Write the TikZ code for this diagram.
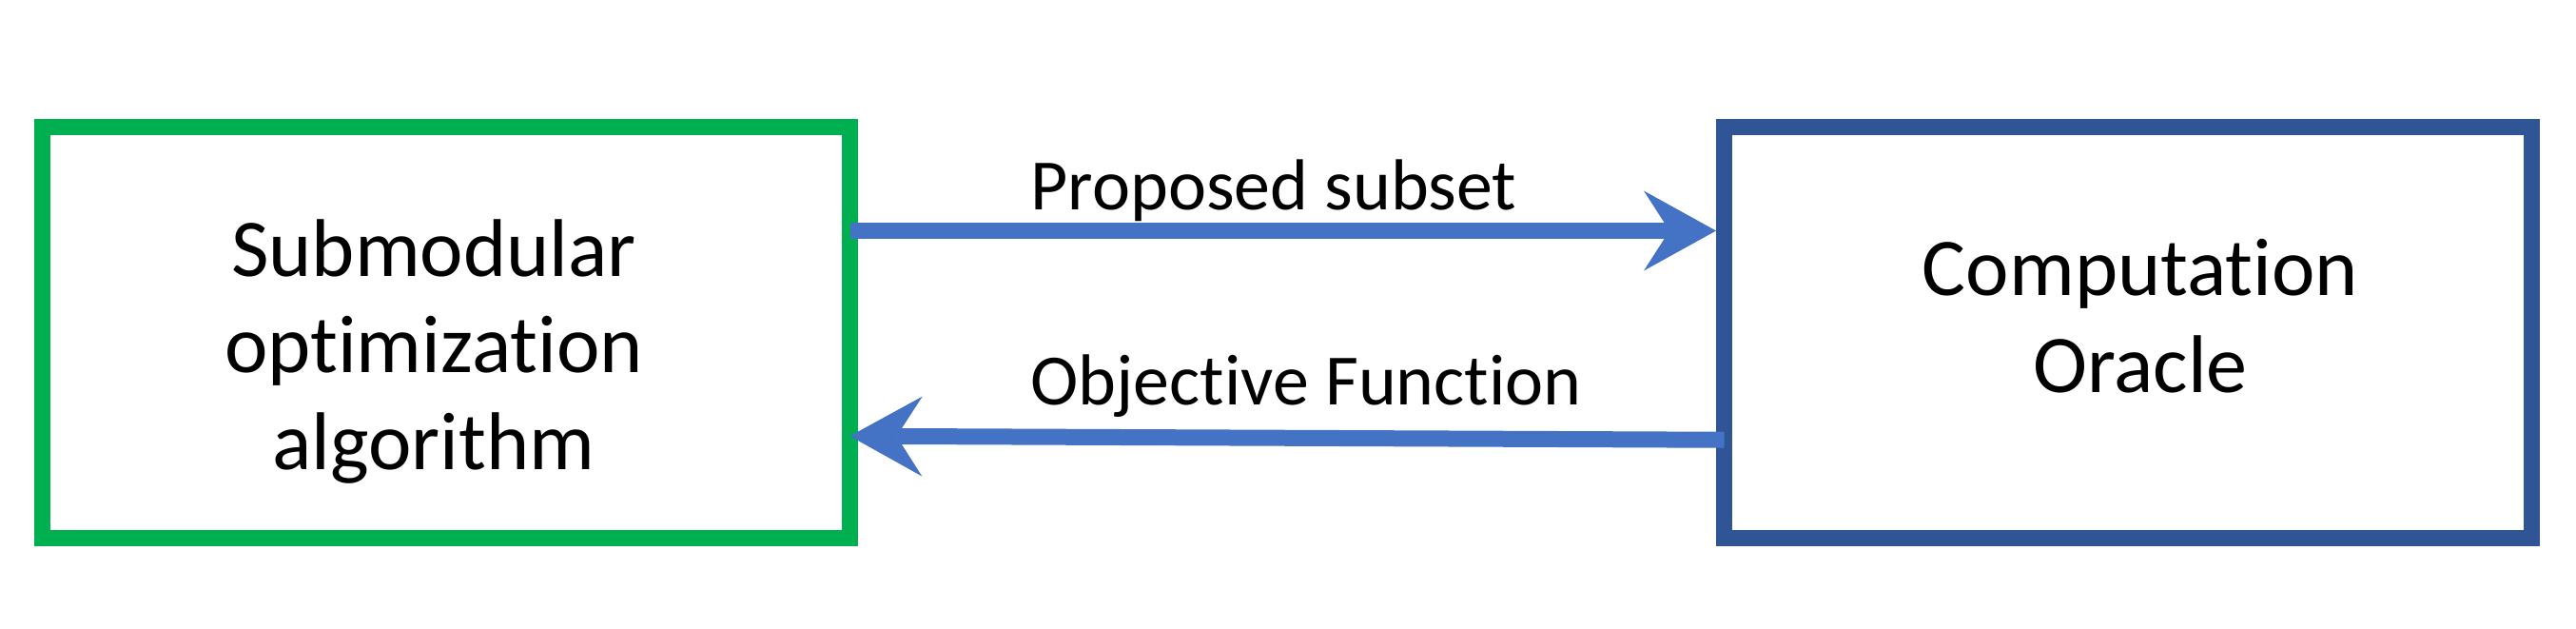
\documentclass[tikz,border=0pt]{standalone}
\usepackage{fontspec}
\setmainfont{Carlito}[Ligatures=NoCommon]
\usetikzlibrary{
    arrows.meta,
    positioning
}
\definecolor{algogreen}{HTML}{00B050}
\definecolor{oracleblue}{HTML}{2F5597}
\definecolor{flowblue}{HTML}{4472C4}
\tikzset{
    % --- Main block (algorithm / oracle) ---
    block/.style = {
        rectangle, draw, line width=0.17cm,
        minimum width=8.49cm, minimum height=4.315cm,
        outer sep=0pt
    },
    % --- Text inside a block ---
    block text/.style = {
        align=center, inner sep=0pt,
        font=\fontsize{24.5}{28.9}\selectfont
    },
    % --- Message arrow between the blocks ---
    msg arrow/.style = {
        flowblue, line width=0.17cm,
        -{Stealth[length=0.76cm, width=0.84cm, inset=0.27cm, line width=0pt]}
    },
    % --- Message label over an arrow ---
    msg/.style = {
        font=\fontsize{21.6}{26}\selectfont,
        anchor=base west, inner sep=0pt
    }
}

\begin{document}
\begin{tikzpicture}

\useasboundingbox (0,0) rectangle (27.08,6.6);

% ---------------------------------------------------------
% Blocks
% ---------------------------------------------------------
\node[block, draw=algogreen,
      label={[block text, xshift=-0.13cm, yshift=-0.2cm]center:{Submodular\\optimization\\algorithm}}]
      (Algo) at (4.69, 3.1075) {};
\node[block, draw=oracleblue, right=9.19cm of Algo,
      label={[block text, xshift=0.13cm, yshift=0.17cm]center:{Computation\\Oracle}}]
      (Oracle) {};

% ---------------------------------------------------------
% Messages
% ---------------------------------------------------------
\draw[msg arrow, shorten >=0.085cm] ([yshift=1.0675cm]Algo.east) -- ([yshift=1.0675cm]Oracle.west);
\draw[msg arrow] ([yshift=-1.13cm]Oracle.west) -- ([yshift=-1.09cm]Algo.east);

\node[msg] (PropLbl) at (10.83, 4.40) {Proposed subset};
\node[msg] (ObjLbl) at (10.83, 2.35) {Objective Function};

\end{tikzpicture}
\end{document}
